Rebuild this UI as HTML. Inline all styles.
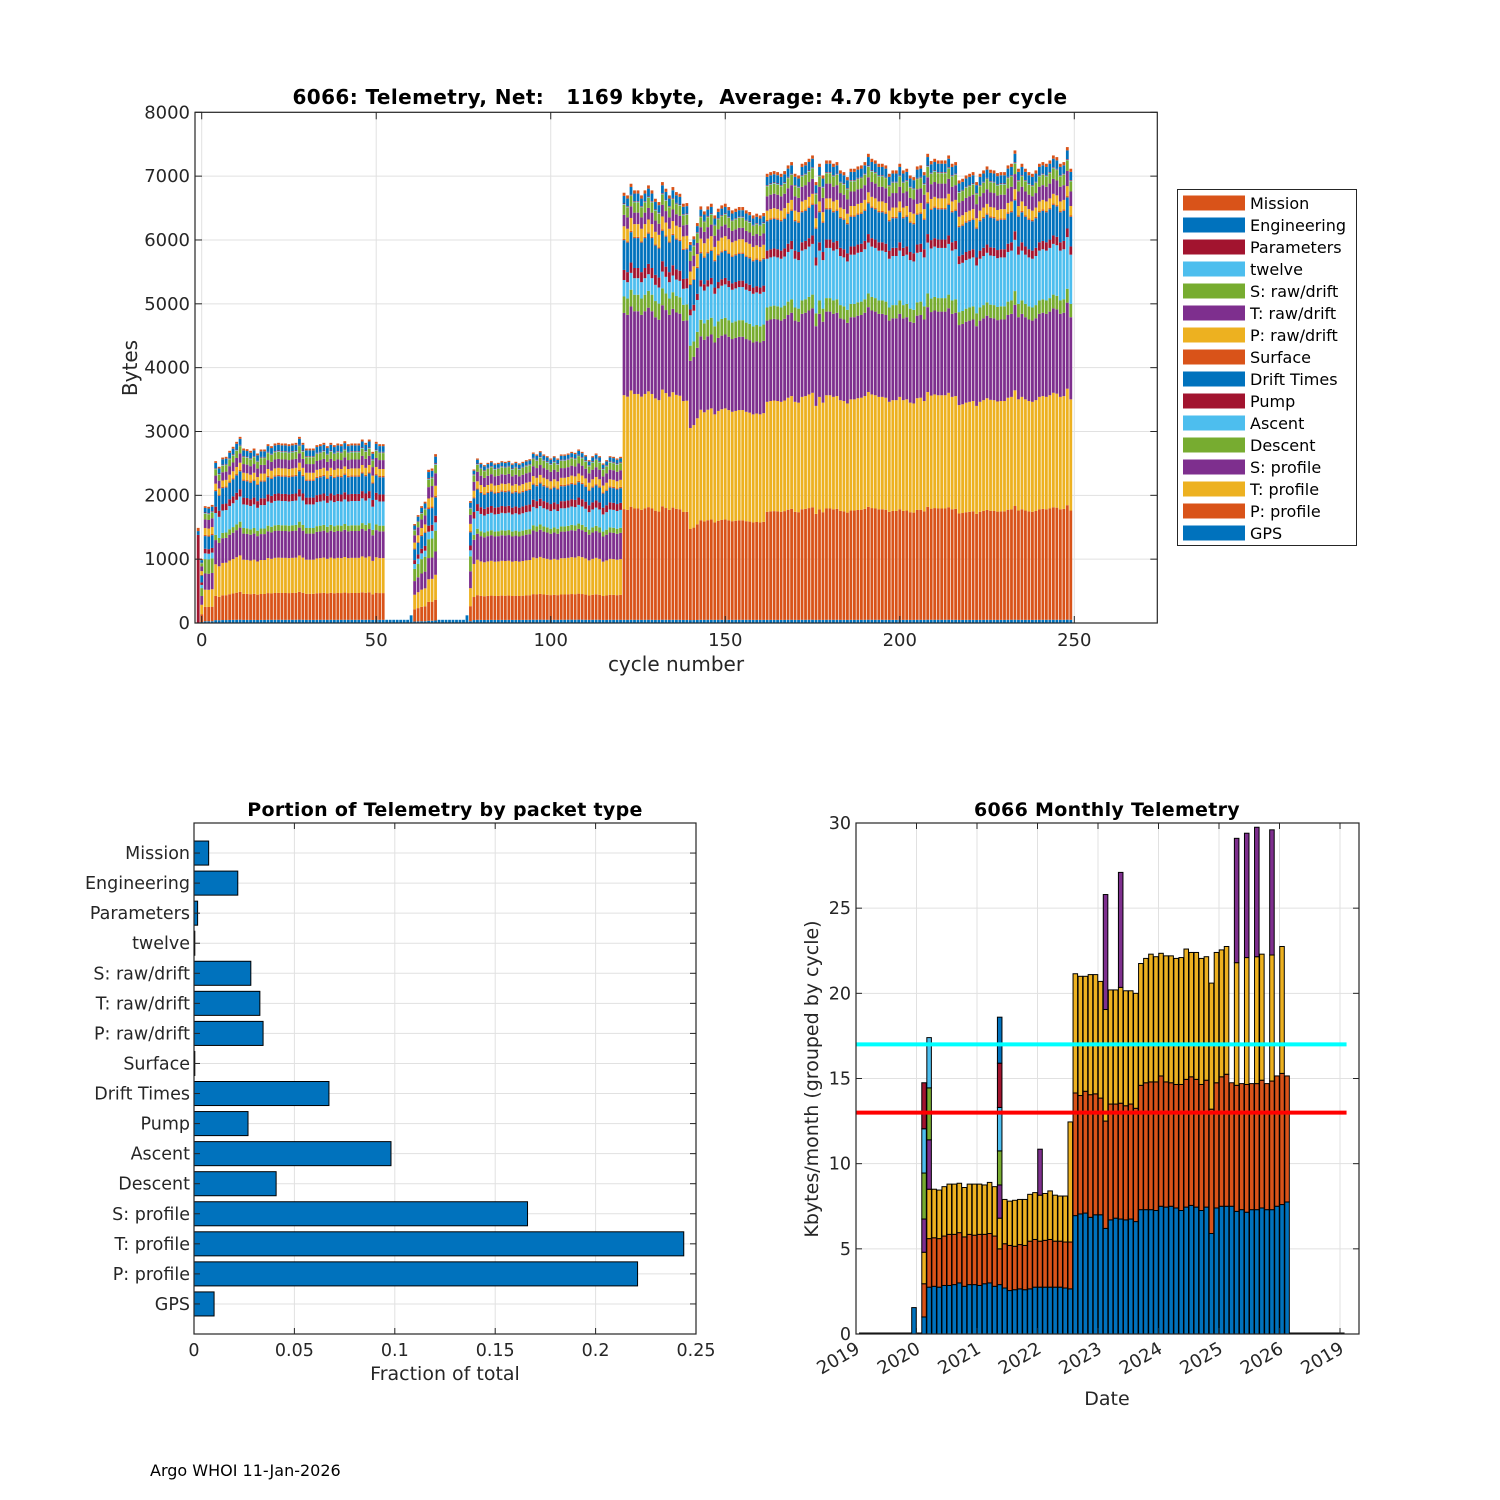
<!DOCTYPE html>
<html><head><meta charset="utf-8"><title>6066 Telemetry</title>
<style>
html,body{margin:0;padding:0;background:#fff;}
svg{display:block;font-family:"DejaVu Sans","Liberation Sans",sans-serif;}
.tk{font-size:18px;fill:#262626;}
.tk2{font-size:17.5px;fill:#262626;}
.ttl{font-size:20px;font-weight:bold;fill:#000;letter-spacing:0.4px;}
.lab{font-size:20px;fill:#262626;}
.leg{font-size:16px;fill:#000;}
</style></head>
<body>
<svg id="fig" width="1500" height="1500" viewBox="0 0 1500 1500" xmlns="http://www.w3.org/2000/svg">
<rect x="0" y="0" width="1500" height="1500" fill="#fff"/>
<g id="top"></g>
<g id="bl"></g>
<g id="br"></g>
<text x="150" y="1476" font-size="16" fill="#000">Argo WHOI 11-Jan-2026</text>
</svg>
<script>
// ================= TOP CHART DATA =================
const layerNames = ["GPS","P: profile","T: profile","S: profile","Descent","Ascent","Pump","Drift Times","Surface","P: raw/drift","T: raw/drift","S: raw/drift","twelve","Parameters","Engineering","Mission"];
const BLUE="#0072BD",ORANGE="#D95319",YELLOW="#EDB120",PURPLE="#7E2F8E",GREEN="#77AC30",LTBLUE="#4DBEEE",DKRED="#A2142F";
const layerColors = [BLUE,ORANGE,YELLOW,PURPLE,GREEN,LTBLUE,DKRED,BLUE,ORANGE,YELLOW,PURPLE,GREEN,LTBLUE,DKRED,BLUE,ORANGE];
const profP0 = [0,0,0,0,0,0,0,0,0,0,0,0,0,1380,60,50];
const profB  = [30,250,300,280,250,100,80,220,20,120,150,100,10,10,80,30];
const profA  = [50,420,550,420,90,380,110,270,20,110,140,110,10,10,90,30];
const profT  = [50,0,0,0,0,0,0,0,0,0,0,0,0,0,0,0];
const profC  = [50,390,560,410,80,280,110,230,20,110,150,110,10,10,60,20];
const profD1 = [50,1750,1800,1300,260,260,160,470,20,200,180,160,10,10,120,50];
const profD2 = [50,1560,1730,1150,260,520,100,420,20,210,180,155,10,10,100,50];
const profD3 = [50,1730,1760,1300,210,780,130,470,20,150,230,160,10,10,130,50];
const eraStart = [-1,0,4,53,61,68,77,78,121,140,162];
const eraEnd   = [-1,3,52,60,67,76,77,120,139,161,249];
const eraProfile = [profP0,profB,profA,profT,profB,profT,profB,profC,profD1,profD2,profD3];
const firstCycle = -1;
const cycleTotals = [
1490,
1000,1830,1820,1850,
2535,2447,2592,2603,2697,2760,2838,2916,2733,2723,
2697,2733,2655,2718,2718,2801,2770,2812,2822,2812,
2812,2801,2812,2822,2916,2822,2733,2733,2733,2786,
2801,2822,2770,2822,2786,2812,2801,2848,2801,2812,
2812,2812,2874,2822,2874,2681,2838,2801,2801,
50,50,50,50,50,50,50,120,
1550,1690,1830,1900,2400,2420,2645,
50,50,50,50,50,50,50,50,120,
1910,
2405,2577,2509,2473,2509,2535,2499,2509,2535,2525,
2540,2499,2525,2499,2525,2551,2566,2671,2640,2692,
2640,2613,2577,2613,2577,2640,2640,2655,2681,2666,
2718,2681,2629,2551,2613,2655,2613,2499,2551,2613,
2603,2577,2603,
6740,6698,6881,6777,6777,6698,6777,6855,6777,6646,6594,6907,6803,6698,6829,6750,6724,6568,6578,
5968,6057,6265,6526,6448,6526,6568,6385,6490,6542,6568,6516,6464,6490,6516,6516,6464,6438,6385,6412,6385,6422,
7037,7063,7079,7063,7037,7079,7168,7220,7037,7011,
7194,7220,7272,7324,6907,7194,7011,7246,7246,7194,
7220,7090,7063,6985,7116,7116,7152,7168,7220,7350,
7272,7246,7194,7194,7168,7037,7090,7090,7194,7090,
7116,7011,6985,7152,7168,7063,7350,7236,7272,7246,
7246,7246,7324,7194,7220,6933,6959,7011,7037,7063,
6907,7037,7090,7152,7100,7090,7048,7063,7063,7168,
7194,7403,7116,7194,7116,7063,7037,7090,7194,7220,
7194,7246,7324,7298,7194,7220,7455,7116];
const topXTicks = [0,50,100,150,200,250];
const topYTicks = [0,1000,2000,3000,4000,5000,6000,7000,8000];

// ================= BOTTOM-LEFT DATA =================
const packetTypes = ["GPS","P: profile","T: profile","S: profile","Descent","Ascent","Pump","Drift Times","Surface","P: raw/drift","T: raw/drift","S: raw/drift","twelve","Parameters","Engineering","Mission"];
const packetFractions = [0.0100,0.2209,0.2439,0.1661,0.0409,0.0981,0.0269,0.0672,0.0004,0.0344,0.0328,0.0283,0.0004,0.0018,0.0218,0.0073];
const fracTicks = [0,0.05,0.1,0.15,0.2,0.25];
const fracTickLabels = ["0","0.05","0.1","0.15","0.2","0.25"];

// ================= BOTTOM-RIGHT DATA =================
const monthIndex = [11,13,14,15,16,17,18,19,20,21,22,23,24,25,26,27,28,29,30,31,32,33,34,35,36,37,38,39,40,41,42,43,44,45,46,47,48,49,50,51,52,53,54,55,56,57,58,59,60,61,62,63,64,65,66,67,68,69,70,71,72,73,74,75,76,77,78,79,80,81,82,83,84,85];
const monthSegments = [
[1.55],
[1.0,1.95,1.85,1.95,2.7,2.6,2.7],
[2.75,2.85,2.9,2.9,3.05,2.95],
[2.8,2.85,2.85],[2.75,2.85,2.85],[2.85,2.9,2.9],[2.85,3.0,2.95],[2.9,2.95,2.95],
[3.0,2.95,2.9],[2.8,2.9,2.9],[2.9,2.95,2.95],[2.9,2.9,3.0],[2.85,3.0,2.95],
[2.95,2.9,2.9],[3.0,2.9,3.0],[2.8,2.95,2.9],
[2.9,2.1,1.8,1.95,2.0,2.55,2.6,2.7],
[2.7,2.6,2.6],[2.55,2.65,2.6],[2.6,2.55,2.7],[2.65,2.6,2.65],[2.6,2.6,2.7],[2.65,2.8,2.75],[2.75,2.8,2.75],
[2.75,2.7,2.7,2.7],[2.75,2.75,2.75],[2.75,2.8,2.85],[2.75,2.7,2.7],[2.75,2.7,2.65],[2.7,2.7,2.7],
[2.65,2.75,7.05],
[6.95,7.2,7.0],[7.05,6.95,7.0],[7.1,7.15,6.75],[6.85,7.2,7.05],[7.0,7.1,7.0],
[7.0,6.85,6.85],[6.2,6.3,6.55,6.75],[6.7,6.8,6.7],[6.8,6.7,6.7],[6.75,6.8,6.8,6.75],[6.7,6.7,6.75],[6.75,6.75,6.65],[6.6,6.65,6.75],
[7.3,7.3,7.15],[7.3,7.45,7.3],[7.3,7.5,7.5],[7.25,7.55,7.35],
[7.5,7.65,7.2],[7.45,7.35,7.4],[7.5,7.25,7.45],[7.4,7.25,7.4],[7.25,7.4,7.45],[7.45,7.5,7.65],
[7.55,7.55,7.3],[7.45,7.5,7.45],[7.25,7.4,7.4],[7.45,7.45,7.25],[5.9,7.3,7.4],[7.4,7.35,7.65],
[7.5,7.6,7.45],[7.5,7.75,7.5],[7.5,7.25],[7.2,7.4,7.2,7.3],[7.3,7.4],[7.15,7.5,7.45,7.3],
[7.3,7.4],[7.3,7.4,7.45,7.6],[7.4,7.5,7.4],[7.3,7.4],[7.3,7.55,7.4,7.35],[7.5,7.65],
[7.6,7.7,7.45],[7.75,7.4]];
const segmentColors = [BLUE,ORANGE,YELLOW,PURPLE,GREEN,LTBLUE,DKRED];
const yearTickMonths = [0,12,24,36,48,60,72,84,96];
const yearTickLabels = ["2019","2020","2021","2022","2023","2024","2025","2026","2019"];
const kbTicks = [0,5,10,15,20,25,30];
const refLineValues = [17,13];
const refLineColors = ["#00FFFF","#FF0000"];

// ================= HELPERS =================
const NS="http://www.w3.org/2000/svg";
function mk(tag,parent){const e=document.createElementNS(NS,tag);parent.appendChild(e);return e;}
function attrs(e,o){for(const k in o)e.setAttribute(k,o[k]);return e;}
const GRID="#e1e1e1", AX="#262626";

// ================= TOP CHART =================
(function(){
const g=document.getElementById('top');
const L=195,R=1157.3,T=112.3,B=623;
const xT=c=>201.7+c*3.4904;
const yT=v=>B-v*(B-T)/8000;
topXTicks.forEach(t=>{const l=mk('line',g);attrs(l,{x1:xT(t),x2:xT(t),y1:T,y2:B,stroke:GRID,'stroke-width':1});

});
topYTicks.forEach(t=>{const l=mk('line',g);attrs(l,{x1:L,x2:R,y1:yT(t),y2:yT(t),stroke:GRID,'stroke-width':1});

});
const bw=0.8*3.4904;
for(let i=0;i<cycleTotals.length;i++){
  const c=firstCycle+i;
  let prof=null;
  for(let k=0;k<eraStart.length;k++){if(c>=eraStart[k]&&c<=eraEnd[k]){prof=eraProfile[k];break;}}
  if(!prof)continue;
  const sum=prof.reduce((a,b)=>a+b,0);
  const s=cycleTotals[i]/sum;
  let acc=0;
  const bg=mk('g',g);
  
  
  for(let j=0;j<prof.length;j++){
    const v=prof[j]*s; if(v<=0)continue;
    const y1=yT(acc),y2=yT(acc+v);
    const r=mk('rect',bg);
    attrs(r,{x:xT(c)-bw/2,y:y2,width:bw,height:Math.max(0,y1-y2),fill:layerColors[j]});
    
    
    acc+=v;
  }
}
const box=mk('rect',g);attrs(box,{x:L,y:T,width:R-L,height:B-T,fill:'none',stroke:AX,'stroke-width':1.2});


topXTicks.forEach(t=>{
  const a=mk('line',g);attrs(a,{x1:xT(t),x2:xT(t),y1:B,y2:B-7,stroke:AX});
  
  
  const b=mk('line',g);attrs(b,{x1:xT(t),x2:xT(t),y1:T,y2:T+7,stroke:AX});
  
  
  const tx=mk('text',g);attrs(tx,{x:xT(t),y:B+23,'text-anchor':'middle',class:'tk'});tx.textContent=String(t);
  
  
});
topYTicks.forEach(t=>{
  const a=mk('line',g);attrs(a,{x1:L,x2:L+7,y1:yT(t),y2:yT(t),stroke:AX});
  
  
  const b=mk('line',g);attrs(b,{x1:R,x2:R-7,y1:yT(t),y2:yT(t),stroke:AX});
  
  
  const tx=mk('text',g);attrs(tx,{x:L-5,y:yT(t)+6,'text-anchor':'end',class:'tk'});tx.textContent=String(t);
  
  
});
const ti=mk('text',g);attrs(ti,{x:680,y:104,'text-anchor':'middle',class:'ttl','xml:space':'preserve',style:'white-space:pre'});
ti.textContent="6066: Telemetry, Net:   1169 kbyte,  Average: 4.70 kbyte per cycle";


const xl=mk('text',g);attrs(xl,{x:676,y:671,'text-anchor':'middle',class:'lab'});xl.textContent="cycle number";


const yl=mk('text',g);attrs(yl,{x:137,y:368,'text-anchor':'middle',class:'lab',transform:'rotate(-90 137 368)'});yl.textContent="Bytes";


const lg=mk('g',g);


const lb=mk('rect',lg);attrs(lb,{x:1177.5,y:189.5,width:179,height:356,fill:'#fff',stroke:AX,'stroke-width':1});


for(let j=layerNames.length-1,row=0;j>=0;j--,row++){
  const yy=203+row*22;
  const e=mk('g',lg);
  
  
  const sw=mk('rect',e);attrs(sw,{x:1183,y:yy-7.5,width:62,height:15,fill:layerColors[j]});
  
  
  const tx=mk('text',e);attrs(tx,{x:1250,y:yy+6,class:'leg'});tx.textContent=layerNames[j];
  
  
}
})();

// ================= BOTTOM-LEFT =================
(function(){
const g=document.getElementById('bl');
const L=194,R=696,T=823,B=1334;
const xF=v=>L+v*(R-L)/0.25;
const yC=k=>B-k*(B-T)/17;
fracTicks.forEach(t=>{const l=mk('line',g);attrs(l,{x1:xF(t),x2:xF(t),y1:T,y2:B,stroke:GRID});

});
packetTypes.forEach((p,i)=>{const l=mk('line',g);attrs(l,{x1:L,x2:R,y1:yC(i+1),y2:yC(i+1),stroke:GRID});

});
const bh=0.8*(B-T)/17;
packetFractions.forEach((f,i)=>{
  const r=mk('rect',g);attrs(r,{x:L,y:yC(i+1)-bh/2,width:Math.max(0.5,xF(f)-L),height:bh,fill:BLUE,stroke:'#000','stroke-width':1});
  
  
  const tx=mk('text',g);attrs(tx,{x:L-4,y:yC(i+1)+6,'text-anchor':'end',class:'tk2'});tx.textContent=packetTypes[i];
  
  
  const a=mk('line',g);attrs(a,{x1:L,x2:L+6,y1:yC(i+1),y2:yC(i+1),stroke:AX});
  
  
  const b=mk('line',g);attrs(b,{x1:R,x2:R-6,y1:yC(i+1),y2:yC(i+1),stroke:AX});
  
  
});
const box=mk('rect',g);attrs(box,{x:L,y:T,width:R-L,height:B-T,fill:'none',stroke:AX,'stroke-width':1.2});


fracTicks.forEach((t,i)=>{
  const a=mk('line',g);attrs(a,{x1:xF(t),x2:xF(t),y1:B,y2:B-6,stroke:AX});
  
  
  const b=mk('line',g);attrs(b,{x1:xF(t),x2:xF(t),y1:T,y2:T+6,stroke:AX});
  
  
  const tx=mk('text',g);attrs(tx,{x:xF(t),y:B+22,'text-anchor':'middle',class:'tk2'});tx.textContent=fracTickLabels[i];
  
  
});
const ti=mk('text',g);attrs(ti,{x:445,y:816,'text-anchor':'middle',class:'ttl',style:'font-size:19px;letter-spacing:0.3px'});ti.textContent="Portion of Telemetry by packet type";


const xl=mk('text',g);attrs(xl,{x:445,y:1380,'text-anchor':'middle',class:'lab',style:'font-size:19px'});xl.textContent="Fraction of total";


})();

// ================= BOTTOM-RIGHT =================
(function(){
const g=document.getElementById('br');
const L=856,R=1359,T=823,B=1334;
const xM=m=>L+m*60.5/12;
const yK=v=>B-v*(B-T)/30;
yearTickMonths.forEach(t=>{const l=mk('line',g);attrs(l,{x1:xM(t),x2:xM(t),y1:T,y2:B,stroke:GRID});

});
kbTicks.forEach(t=>{const l=mk('line',g);attrs(l,{x1:L,x2:R,y1:yK(t),y2:yK(t),stroke:GRID});

});
const zl=mk('line',g);attrs(zl,{x1:xM(0.6),x2:xM(96.9),y1:B-0.5,y2:B-0.5,stroke:'#000','stroke-width':2});


const bw=0.9*60.5/12;
monthIndex.forEach((m,i)=>{
  const bg=mk('g',g);
  
  
  let acc=0;
  monthSegments[i].forEach((v,j)=>{
    const y1=yK(acc),y2=yK(acc+v);
    const r=mk('rect',bg);
    attrs(r,{x:xM(m+0.5)-bw/2,y:y2,width:bw,height:y1-y2,fill:segmentColors[j%segmentColors.length],stroke:'#000','stroke-width':1});
    
    
    acc+=v;
  });
});
refLineValues.forEach((v,i)=>{
  const l=mk('line',g);attrs(l,{x1:xM(0.1),x2:xM(97.3),y1:yK(v),y2:yK(v),stroke:refLineColors[i],'stroke-width':4});
  
  
});
const box=mk('rect',g);attrs(box,{x:L,y:T,width:R-L,height:B-T,fill:'none',stroke:AX,'stroke-width':1.2});


yearTickMonths.forEach((t,i)=>{
  const a=mk('line',g);attrs(a,{x1:xM(t),x2:xM(t),y1:B,y2:B-6,stroke:AX});
  
  
  const b=mk('line',g);attrs(b,{x1:xM(t),x2:xM(t),y1:T,y2:T+6,stroke:AX});
  
  
  const tx=mk('text',g);
  const px=xM(t)+5,py=B+18;
  attrs(tx,{x:px,y:py,'text-anchor':'end',class:'tk2',style:'font-size:18px',transform:'rotate(-30 '+px+' '+py+')'});tx.textContent=yearTickLabels[i];
  
  
});
kbTicks.forEach(t=>{
  const a=mk('line',g);attrs(a,{x1:L,x2:L+6,y1:yK(t),y2:yK(t),stroke:AX});
  
  
  const b=mk('line',g);attrs(b,{x1:R,x2:R-6,y1:yK(t),y2:yK(t),stroke:AX});
  
  
  const tx=mk('text',g);attrs(tx,{x:L-5,y:yK(t)+6,'text-anchor':'end',class:'tk2'});tx.textContent=String(t);
  
  
});
const ti=mk('text',g);attrs(ti,{x:1107,y:816,'text-anchor':'middle',class:'ttl',style:'font-size:19px;letter-spacing:0.3px'});ti.textContent="6066 Monthly Telemetry";


const xl=mk('text',g);attrs(xl,{x:1107,y:1405,'text-anchor':'middle',class:'lab',style:'font-size:19px'});xl.textContent="Date";


const yl=mk('text',g);attrs(yl,{x:818,y:1079,'text-anchor':'middle',class:'lab',style:'font-size:19px',transform:'rotate(-90 818 1079)'});yl.textContent="Kbytes/month (grouped by cycle)";


})();
</script>
</body></html>
